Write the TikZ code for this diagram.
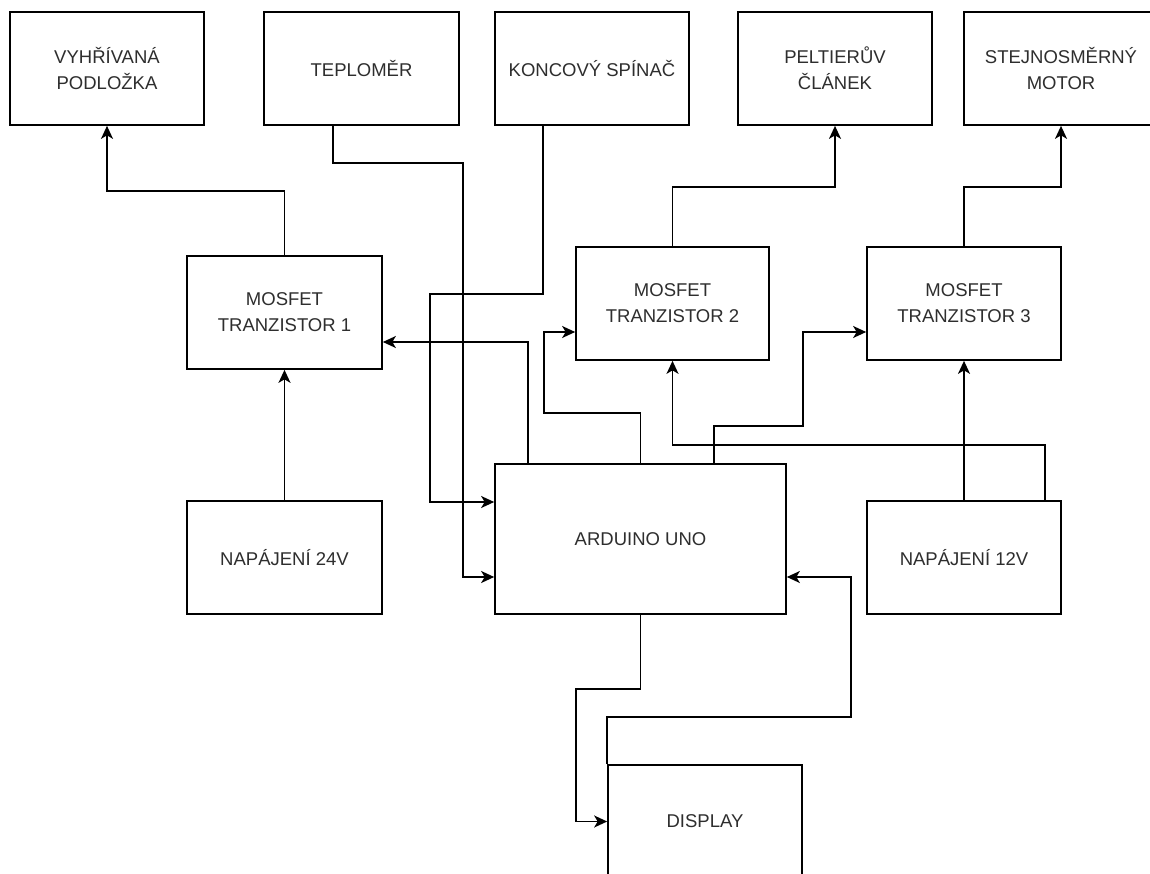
\documentclass[tikz,border=0pt]{standalone}
\usepackage{fontspec}
\setmainfont{Liberation Sans}
\usetikzlibrary{arrows.meta}
\definecolor{txt}{HTML}{2E2E2E}
\tikzset{
  blk/.style={draw=black, line width=1.7pt, fill=white, inner sep=0pt, align=center,
    text=txt, font=\fontsize{18.5}{26}\selectfont},
  arr/.style={draw=black, line width=1.7pt, -{Stealth[length=13pt, width=12pt, inset=3.5pt]}}
}
\begin{document}
\begin{tikzpicture}[x=1pt, y=-1pt]
\useasboundingbox (0,0) rectangle (1150,874);
\fill[white] (0,0) rectangle (1150,874);
\clip (0,0) rectangle (1150,874);
% boxes
\node[blk, minimum width=194pt, minimum height=113pt] (vyh) at (107,68.5) {VYHŘÍVANÁ\\PODLOŽKA};
\node[blk, minimum width=195pt, minimum height=113pt] (tep) at (361.5,68.5) {TEPLOMĚR};
\node[blk, minimum width=194pt, minimum height=113pt] (kon) at (592,68.5) {KONCOVÝ SPÍNAČ};
\node[blk, minimum width=194pt, minimum height=113pt] (pel) at (835,68.5) {PELTIERŮV\\ČLÁNEK};
\node[blk, minimum width=194pt, minimum height=113pt] (mot) at (1061,68.5) {STEJNOSMĚRNÝ\\MOTOR};
\node[blk, minimum width=195pt, minimum height=113pt] (mos1) at (284.5,312.5) {MOSFET\\TRANZISTOR 1};
\node[blk, minimum width=193pt, minimum height=113pt] (mos2) at (672.5,303.5) {MOSFET\\TRANZISTOR 2};
\node[blk, minimum width=194pt, minimum height=113pt] (mos3) at (964,303.5) {MOSFET\\TRANZISTOR 3};
\node[blk, minimum width=195pt, minimum height=113pt] (p24) at (284.5,557.5) {NAPÁJENÍ 24V};
\node[blk, minimum width=291pt, minimum height=150pt] (ard) at (640.5,539) {ARDUINO UNO};
\node[blk, minimum width=194pt, minimum height=113pt] (p12) at (964,557.5) {NAPÁJENÍ 12V};
\node[blk, minimum width=194pt, minimum height=113pt] (disp) at (705,821.5) {DISPLAY};
% connectors
\draw[arr] (mos1.north) |- (107,191) -- (vyh.south);
\draw[arr] ([xshift=-28.5pt]tep.south) |- (463,163) |- ([yshift=-38pt]ard.west);
\draw[arr] ([xshift=-49pt]kon.south) |- (430,294) |- ([yshift=37pt]ard.west);
\draw[arr] ([xshift=-112.5pt]ard.north) |- ([yshift=-29.5pt]mos1.east);
\draw[arr] (ard.north) |- (544,413) |- ([yshift=-28.5pt]mos2.west);
\draw[arr] ([xshift=73.5pt]ard.north) |- (803,426) |- ([yshift=-28.5pt]mos3.west);
\draw[arr] (mos2.north) |- (835,187) -- (pel.south);
\draw[arr] (mos3.north) |- (1061,187) -- (mot.south);
\draw[arr] (p24.north) -- (mos1.south);
\draw[arr] ([xshift=81pt]p12.north) |- (672.5,445) -- (mos2.south);
\draw[arr] (p12.north) -- (mos3.south);
\draw[arr] (ard.south) |- (576,689) |- (disp.west);
\draw[arr] (disp.north west) |- (851,717) |- ([yshift=-38pt]ard.east);
\end{tikzpicture}
\end{document}
